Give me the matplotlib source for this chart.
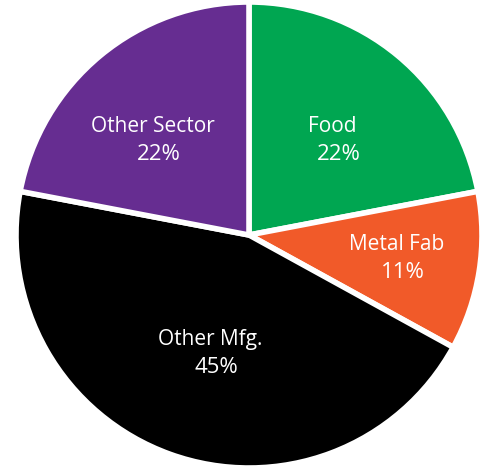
import numpy as np
import matplotlib.pyplot as plt

labels = ["Food", "Metal Fab", "Other Mfg.", "Other Sector"]
values = [22, 11, 45, 22]
colors = ["#00A651", "#F15A29", "#000000", "#662D91"]
# label placement: fraction of radius and small angle nudge (deg) from the wedge middle
label_r = [0.55, 0.656, 0.533, 0.568]
label_nudge = [-3, 0, 3, 5]

plt.rcParams["font.family"] = ["Open Sans", "DejaVu Sans"]

fig = plt.figure(figsize=(4.87, 4.68), dpi=100)
ax = fig.add_axes([16 / 487, 0, 466 / 487, 466 / 468])

wedges, _ = ax.pie(
    values,
    colors=colors,
    startangle=90,
    counterclock=False,
    radius=1.0,
    wedgeprops=dict(edgecolor="white", linewidth=4),
)

for w, name, v, r, nd in zip(wedges, labels, values, label_r, label_nudge):
    mid = np.deg2rad((w.theta1 + w.theta2) / 2 + nd)
    x, y = r * np.cos(mid), r * np.sin(mid)
    ax.text(x - 0.013, y + 0.06, name, color="white", fontsize=15,
            ha="center", va="center")
    ax.text(x + 0.013, y - 0.06, f"{v}%", color="white", fontsize=16,
            fontweight="medium", ha="center", va="center")

ax.set_xlim(-1, 1)
ax.set_ylim(-1, 1)
ax.set_aspect("equal")
ax.axis("off")

fig.savefig("out.png", dpi=100)
